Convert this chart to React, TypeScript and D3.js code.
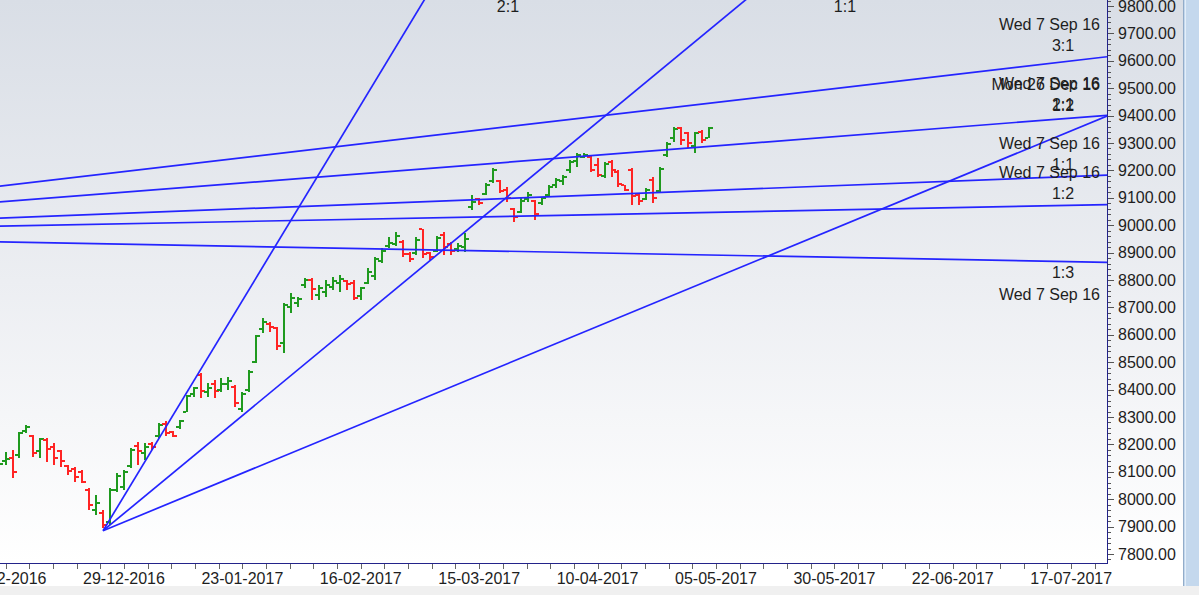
import React from 'react';
import * as d3 from 'd3';

// ---- Data (Nifty daily bars) ----
const DATES = [
  '05-12-2016','06-12-2016','07-12-2016','08-12-2016','09-12-2016','12-12-2016','13-12-2016','14-12-2016','15-12-2016','16-12-2016',
  '19-12-2016','20-12-2016','21-12-2016','22-12-2016','23-12-2016','26-12-2016','27-12-2016','28-12-2016','29-12-2016','30-12-2016',
  '02-01-2017','03-01-2017','04-01-2017','05-01-2017','06-01-2017','09-01-2017','10-01-2017','11-01-2017','12-01-2017','13-01-2017',
  '16-01-2017','17-01-2017','18-01-2017','19-01-2017','20-01-2017','23-01-2017','24-01-2017','25-01-2017','27-01-2017','30-01-2017','31-01-2017',
  '01-02-2017','02-02-2017','03-02-2017','06-02-2017','07-02-2017','08-02-2017','09-02-2017','10-02-2017','13-02-2017','14-02-2017',
  '15-02-2017','16-02-2017','17-02-2017','20-02-2017','21-02-2017','22-02-2017','23-02-2017','27-02-2017','28-02-2017',
  '01-03-2017','02-03-2017','03-03-2017','06-03-2017','07-03-2017','08-03-2017','09-03-2017','10-03-2017','14-03-2017','15-03-2017',
  '16-03-2017','17-03-2017','20-03-2017','21-03-2017','22-03-2017','23-03-2017','24-03-2017','27-03-2017','28-03-2017','29-03-2017',
  '30-03-2017','31-03-2017','03-04-2017','05-04-2017','06-04-2017','07-04-2017','10-04-2017','11-04-2017','12-04-2017','13-04-2017',
  '17-04-2017','18-04-2017','19-04-2017','20-04-2017','21-04-2017','24-04-2017','25-04-2017','26-04-2017','27-04-2017','28-04-2017',
  '02-05-2017','03-05-2017','04-05-2017',
];
const OPEN = [
  8088,8140,8150,8160,8250,8230,8175,8215,8190,8175,8120,8110,8100,8035,7960,7950,7915,8035,8045,8120,
  8195,8170,8200,8230,8275,8245,8262,8320,8385,8455,8390,8420,8400,8420,8410,8330,8400,8500,8620,8640,8625,
  8570,8700,8715,8780,8800,8745,8755,8775,8790,8795,8790,8740,8790,8815,8870,8925,8930,8940,8895,
  8900,8985,8898,8905,8965,8930,8912,8920,9065,9095,9115,9160,9160,9130,9060,9050,9095,9090,9080,9110,
  9145,9160,9200,9235,9250,9250,9220,9180,9232,9195,9145,9200,9110,9095,9165,9125,9255,9320,9355,9335,
  9290,9340,9320,
];
const HIGH = [
  8132,8172,8180,8245,8271,8234,8225,8225,8205,8180,8125,8118,8107,8040,8015,7961,8040,8095,8107,8187,
  8208,8205,8208,8278,8285,8250,8289,8380,8410,8460,8424,8435,8442,8446,8417,8391,8472,8599,8661,8647,8628,
  8716,8752,8738,8807,8807,8782,8800,8811,8818,8800,8800,8774,8845,8884,8917,8957,8975,8946,8902,
  8957,8986,8902,8960,8975,8939,8935,8971,9110,9099,9154,9209,9165,9139,9063,9099,9121,9092,9103,9147,
  9172,9183,9238,9263,9263,9256,9245,9231,9238,9201,9148,9208,9117,9136,9176,9212,9303,9358,9358,9340,
  9340,9347,9358,
];
const LOW = [
  8052,8125,8078,8150,8241,8154,8150,8135,8125,8118,8088,8063,8060,7961,7942,7895,7906,8028,8034,8114,
  8125,8143,8180,8224,8230,8226,8256,8318,8373,8370,8373,8370,8391,8399,8337,8318,8391,8497,8607,8610,8545,
  8534,8680,8702,8771,8727,8727,8738,8764,8756,8764,8727,8727,8785,8800,8862,8917,8924,8884,8866,
  8891,8880,8873,8902,8891,8891,8902,8902,9055,9074,9110,9154,9117,9085,9012,9045,9085,9019,9074,9103,
  9136,9147,9191,9212,9245,9194,9176,9172,9176,9139,9125,9074,9074,9092,9081,9121,9249,9304,9293,9282,
  9264,9300,9318,
];
const CLOSE = [
  8128,8148,8100,8240,8262,8170,8220,8182,8150,8140,8104,8082,8062,7980,7986,7905,8032,8085,8100,8180,
  8175,8190,8190,8270,8240,8232,8285,8375,8405,8395,8405,8395,8420,8430,8350,8385,8465,8595,8645,8630,8560,
  8710,8735,8732,8800,8768,8770,8780,8795,8805,8785,8735,8770,8830,8878,8905,8935,8960,8895,8875,
  8945,8895,8885,8955,8920,8905,8925,8950,9085,9080,9145,9200,9125,9100,9030,9090,9110,9040,9098,9140,
  9165,9175,9232,9258,9258,9200,9185,9225,9200,9150,9130,9105,9090,9130,9100,9205,9295,9350,9310,9300,
  9335,9310,9355,
];

// x-axis: labelled ticks every 17 bars (dates beyond the data are future bars)
const X_TICK_LABELS = ['06-12-2016','29-12-2016','23-01-2017','16-02-2017','15-03-2017','10-04-2017','05-05-2017','30-05-2017','22-06-2017','17-07-2017'];
const X_TICK_INDEX = [1, 18, 35, 52, 69, 86, 103, 120, 137, 154];
const Y_TICKS = [7800, 7900, 8000, 8100, 8200, 8300, 8400, 8500, 8600, 8700, 8800, 8900, 9000, 9100, 9200, 9300, 9400, 9500, 9600, 9700, 9800];

// Gann fans: origin (bar index, price) and slopes (points per bar)
const FAN_A_NAME = 'Wed 7 Sep 16';
const FAN_A_ORIGIN_INDEX = -59;
const FAN_A_ORIGIN_PRICE = 8967;
const FAN_A_RATIOS = ['3:1', '2:1', '1:1', '1:2', '1:3'];
const FAN_A_SLOPES = [2.97, 1.99, 0.99, 0.495, -0.47];

const FAN_B_NAME = 'Mon 26 Dec 16';
const FAN_B_ORIGIN_INDEX = 15;
const FAN_B_ORIGIN_PRICE = 7885;
const FAN_B_RATIOS = ['2:1', '1:1', '1:2'];
const FAN_B_SLOPES = [42, 21, 10.5];

const W = 1199;
const H = 595;
const PLOT = { left: 0, right: 1107, top: -26, bottom: 563 };
const FONT = '"Liberation Sans", Arial, sans-serif';
const TXT = '#1e1e1e';
const AXIS = '#23238a';
const UP = '#1f9a1f';
const DOWN = '#ff2424';
const FANC = '#2424ff';

export default function App() {
  const x = d3.scaleLinear().domain([0, 159]).range([-1.4, 1106]);
  const y = d3.scaleLinear().domain([7800, 9800]).range([554, 6]);
  const rightIdx = x.invert(PLOT.right);
  const topPrice = y.invert(PLOT.top);
  const bottomPrice = y.invert(PLOT.bottom);

  const fanLines = (name: string, i0: number, p0: number, ratios: string[], slopes: number[]) =>
    ratios.map((r, k) => {
      const s = slopes[k];
      let ei = rightIdx;
      let ep = p0 + s * (rightIdx - i0);
      let atTop = false;
      if (ep > topPrice) {
        ep = topPrice;
        ei = i0 + (topPrice - p0) / s;
        atTop = true;
      }
      return { name, ratio: r, s, i0, p0, ei, ep, atTop };
    });
  const lines = [
    ...fanLines(FAN_A_NAME, FAN_A_ORIGIN_INDEX, FAN_A_ORIGIN_PRICE, FAN_A_RATIOS, FAN_A_SLOPES),
    ...fanLines(FAN_B_NAME, FAN_B_ORIGIN_INDEX, FAN_B_ORIGIN_PRICE, FAN_B_RATIOS, FAN_B_SLOPES),
  ];

  // x ticks every 17/5 bars
  const minorX: number[] = [];
  for (let t = X_TICK_INDEX[0]; x(t) <= PLOT.right; t += 3.4) minorX.push(t);
  // y minor ticks every 20 points
  const minorY: number[] = [];
  for (let p = 7780; p <= 9820; p += 20) {
    if (y(p) <= PLOT.bottom && y(p) >= 0) minorY.push(p);
  }

  const lineGen = d3.line<[number, number]>().x((d) => x(d[0])).y((d) => y(d[1]));

  return (
    <svg width={W} height={H} style={{ position: 'absolute', left: 0, top: 0, display: 'block' }} fontFamily={FONT}>
      <defs>
        <linearGradient id="bg" gradientUnits="userSpaceOnUse" x1="0" y1="0" x2="0" y2={PLOT.bottom}>
          <stop offset="0" stopColor="#d9dee6" />
          <stop offset="0.5" stopColor="#eceef2" />
          <stop offset="1" stopColor="#ffffff" />
        </linearGradient>
        <clipPath id="plotclip">
          <rect x={PLOT.left} y={PLOT.top} width={PLOT.right - PLOT.left} height={PLOT.bottom - PLOT.top} />
        </clipPath>
      </defs>
      <rect x={0} y={0} width={W} height={H} fill="#ffffff" />
      <rect x={0} y={0} width={1183} height={PLOT.bottom} fill="url(#bg)" />
      <rect x={0} y={586} width={W} height={H - 586} fill="#f0f0f0" />
      {/* right scrollbar strip */}
      <rect x={1183} y={0} width={16} height={586} fill="#c4d8ed" />
      <line x1={1183.5} y1={0} x2={1183.5} y2={586} stroke="#92acc9" />
      <line x1={1185.5} y1={0} x2={1185.5} y2={586} stroke="#e3eef9" />

      {/* bars */}
      <g clipPath="url(#plotclip)" shapeRendering="crispEdges">
        {DATES.map((d, i) => {
          const cx = Math.round(x(i));
          const col = CLOSE[i] >= OPEN[i] ? UP : DOWN;
          const yh = Math.round(y(HIGH[i]));
          const yl = Math.round(y(LOW[i]));
          const yo = Math.round(y(OPEN[i]));
          const yc = Math.round(y(CLOSE[i]));
          return (
            <g key={d} fill={col}>
              <rect x={cx - 1} y={yh} width={2} height={Math.max(2, yl - yh)} />
              <rect x={cx - 4} y={yo - 1} width={3} height={2} />
              <rect x={cx + 1} y={yc - 1} width={3} height={2} />
            </g>
          );
        })}
      </g>

      {/* fan lines */}
      <g clipPath="url(#plotclip)">
        {lines.map((l, k) => (
          <path key={k} d={lineGen([[l.i0, l.p0], [l.ei, l.ep]]) || ''} stroke={FANC} strokeWidth={1.7} fill="none" />
        ))}
      </g>

      {/* fan labels */}
      <g fontSize={16} fill={TXT}>
        {lines.map((l, k) => {
          const ex = x(l.ei);
          const ey = y(l.ep);
          if (l.atTop) {
            return (
              <g key={k}>
                <text x={ex + 68} y={ey + 10} textAnchor="middle" dominantBaseline="central">{l.name}</text>
                <text x={ex + 68} y={ey + 32} textAnchor="middle" dominantBaseline="central">{l.ratio}</text>
              </g>
            );
          }
          if (l.s >= 0) {
            return (
              <g key={k}>
                <text x={ex - 7} y={ey - 32} textAnchor="end" dominantBaseline="central">{l.name}</text>
                <text x={ex - 44} y={ey - 11} textAnchor="middle" dominantBaseline="central">{l.ratio}</text>
              </g>
            );
          }
          return (
            <g key={k}>
              <text x={ex - 44} y={ey + 10} textAnchor="middle" dominantBaseline="central">{l.ratio}</text>
              <text x={ex - 7} y={ey + 32} textAnchor="end" dominantBaseline="central">{l.name}</text>
            </g>
          );
        })}
      </g>

      {/* axes */}
      <g shapeRendering="crispEdges" stroke={AXIS}>
        <line x1={PLOT.left} y1={PLOT.bottom + 0.5} x2={PLOT.right + 1} y2={PLOT.bottom + 0.5} strokeWidth={1.5} />
        <line x1={PLOT.right + 0.5} y1={0} x2={PLOT.right + 0.5} y2={PLOT.bottom + 1} strokeWidth={1.5} />
        {minorX.map((t, k) => (
          <line key={k} x1={Math.round(x(t)) + 0.5} y1={PLOT.bottom + 1} x2={Math.round(x(t)) + 0.5} y2={PLOT.bottom + 6} stroke="#666" />
        ))}
        {minorY.map((p, k) => (
          <line key={k} x1={PLOT.right + 1} y1={Math.round(y(p)) + 0.5} x2={PLOT.right + (p % 100 === 0 ? 7 : 4)} y2={Math.round(y(p)) + 0.5} stroke="#555" />
        ))}
      </g>
      <g fontSize={16} fill={TXT}>
        {Y_TICKS.filter((p) => p >= bottomPrice).map((p) => (
          <text key={p} x={PLOT.right + 11} y={y(p)} dominantBaseline="central">{d3.format('.2f')(p)}</text>
        ))}
        {X_TICK_LABELS.map((lab, k) => (
          <text key={lab} x={x(X_TICK_INDEX[k])} y={578} textAnchor="middle" dominantBaseline="central">{lab}</text>
        ))}
      </g>
    </svg>
  );
}
